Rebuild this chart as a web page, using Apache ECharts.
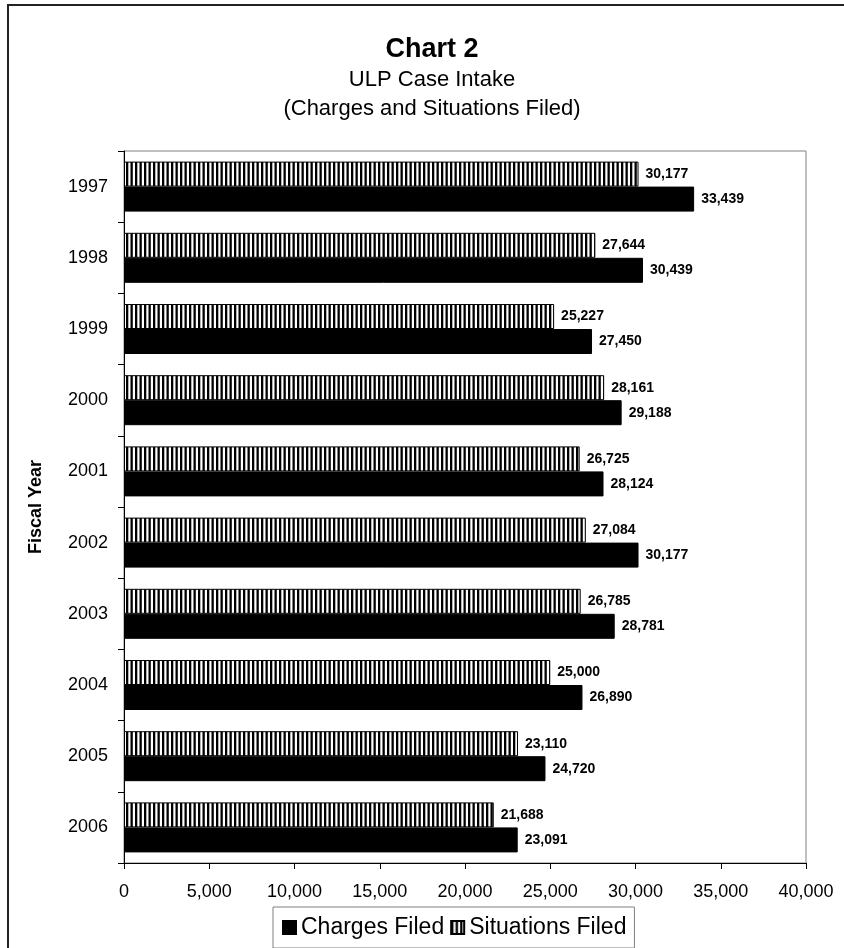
<!DOCTYPE html>
<html>
<head>
<meta charset="utf-8">
<script src="https://cdn.jsdelivr.net/npm/echarts@6/dist/echarts.min.js"></script>
<style>
  html, body { margin: 0; padding: 0; background: #fff; }
  #chart { width: 844px; height: 948px; }
</style>
</head>
<body>
<div id="chart"></div>
<script>
// Fiscal years shown on the category axis (top to bottom)
const years = ['1997', '1998', '1999', '2000', '2001', '2002', '2003', '2004', '2005', '2006'];
// ULP charges filed per fiscal year
const chargesFiled = [33439, 30439, 27450, 29188, 28124, 30177, 28781, 26890, 24720, 23091];
// ULP situations filed per fiscal year
const situationsFiled = [30177, 27644, 25227, 28161, 26725, 27084, 26785, 25000, 23110, 21688];
// Value axis ticks
const xTicks = [0, 5000, 10000, 15000, 20000, 25000, 30000, 35000, 40000];

const FONT = '"Liberation Sans", Arial, sans-serif';
const fmt = v => Number(v).toLocaleString('en-US');

// Vertical black/white stripe fill for the "Situations Filed" bars
function stripeTile() {
  const c = document.createElement('canvas');
  c.width = 9; c.height = 8;
  const g = c.getContext('2d');
  g.fillStyle = '#fff';
  g.fillRect(0, 0, 9, 8);
  g.fillStyle = '#000';
  g.fillRect(0, 0, 2.3, 8);
  g.fillRect(4.5, 0, 2.3, 8);
  return c;
}
const stripes = { image: stripeTile(), repeat: 'repeat' };

const chart = echarts.init(document.getElementById('chart'), null, { renderer: 'canvas' });

const labelStyle = {
  show: true,
  position: 'right',
  distance: 7,
  color: '#000',
  fontFamily: FONT,
  fontWeight: 'bold',
  fontSize: 14,
  formatter: p => fmt(p.value)
};

chart.setOption({
  backgroundColor: '#fff',
  animation: false,
  textStyle: { fontFamily: FONT },
  graphic: [
    {
      type: 'rect', silent: true, z: 0,
      shape: { x: 8, y: 5, width: 900, height: 1000 },
      style: { fill: 'none', stroke: '#222', lineWidth: 2 }
    },
    {
      type: 'text', silent: true,
      style: { text: 'Chart 2', x: 432, y: 50, textAlign: 'center', textVerticalAlign: 'middle',
               font: 'bold 27px ' + FONT, fill: '#000' }
    },
    {
      type: 'text', silent: true,
      style: { text: 'ULP Case Intake', x: 432, y: 80, textAlign: 'center', textVerticalAlign: 'middle',
               font: '22px ' + FONT, fill: '#000' }
    },
    {
      type: 'text', silent: true,
      style: { text: '(Charges and Situations Filed)', x: 432, y: 109, textAlign: 'center', textVerticalAlign: 'middle',
               font: '22px ' + FONT, fill: '#000' }
    }
  ],
  legend: {
    data: ['Charges Filed', 'Situations Filed'],
    left: 273,
    top: 907,
    orient: 'horizontal',
    icon: 'rect',
    itemWidth: 13,
    itemHeight: 13,
    itemGap: 6,
    padding: [8, 8, 8, 9],
    borderColor: '#808080',
    borderWidth: 1,
    textStyle: { fontFamily: FONT, fontSize: 23, color: '#000', lineHeight: 25 }
  },
  grid: {
    left: 124, right: 38, top: 151, bottom: 85,
    show: true, borderColor: '#808080', borderWidth: 1, backgroundColor: '#fff'
  },
  xAxis: {
    type: 'value',
    min: xTicks[0],
    max: xTicks[xTicks.length - 1],
    interval: xTicks[1] - xTicks[0],
    axisLine: { show: true, lineStyle: { color: '#000', width: 1 } },
    axisTick: { show: true, length: 6, lineStyle: { color: '#000' } },
    splitLine: { show: false },
    axisLabel: { color: '#000', fontSize: 18, fontFamily: FONT, margin: 20, formatter: v => fmt(v) }
  },
  yAxis: {
    type: 'category',
    data: years,
    inverse: true,
    name: 'Fiscal Year',
    nameLocation: 'middle',
    nameGap: 79,
    nameRotate: 90,
    nameTextStyle: { color: '#000', fontSize: 18, fontWeight: 'bold', fontFamily: FONT },
    axisLine: { show: true, lineStyle: { color: '#000', width: 1 } },
    axisTick: { show: true, length: 6, lineStyle: { color: '#000' } },
    axisLabel: { color: '#000', fontSize: 18, fontFamily: FONT, margin: 16 }
  },
  series: [
    {
      name: 'Situations Filed',
      type: 'bar',
      data: situationsFiled,
      barWidth: 25,
      barGap: '0%',
      itemStyle: { color: stripes, borderColor: '#000', borderWidth: 1 },
      label: labelStyle
    },
    {
      name: 'Charges Filed',
      type: 'bar',
      data: chargesFiled,
      barWidth: 25,
      barGap: '0%',
      itemStyle: { color: '#000', borderColor: '#000', borderWidth: 1 },
      label: labelStyle
    }
  ]
});
</script>
</body>
</html>
